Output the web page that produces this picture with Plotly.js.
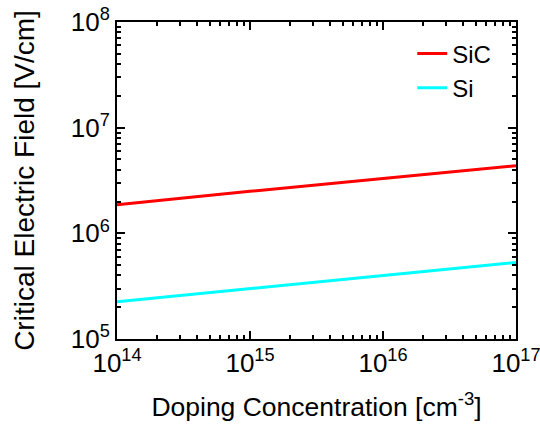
<!DOCTYPE html>
<html>
<head>
<meta charset="utf-8">
<script src="https://cdn.plot.ly/plotly-3.0.1.min.js"></script>
<style>html,body{margin:0;padding:0;background:#fff;}#chart{width:540px;height:434px;}</style>
</head>
<body>
<div id="chart"></div>
<script>
const doping = [1e14, 1e15, 1e16, 1e17];
const sicField = [1.86e6, 2.5e6, 3.3e6, 4.36e6];
const siField = [2.25e5, 3.0e5, 4.0e5, 5.3e5];
const seriesNames = ["SiC", "Si"];
const xTickVals = [1e14, 1e15, 1e16, 1e17];
const xTickExp = ["14", "15", "16", "17"];
const yTickVals = [1e5, 1e6, 1e7, 1e8];
const yTickExp = ["5", "6", "7", "8"];

const supText = e => '10<sup>' + e + '</sup>';

const traces = [
  {x: doping, y: sicField, name: seriesNames[0], mode: 'lines', line: {color: '#ff0000', width: 3}},
  {x: doping, y: siField, name: seriesNames[1], mode: 'lines', line: {color: '#00ffff', width: 3}}
];

const fam = 'Liberation Sans, Arial, sans-serif';
function axisCommon() {
  return {
    type: 'log', showline: true, linewidth: 2, linecolor: '#000', mirror: 'ticks',
    ticks: 'inside', ticklen: 8, tickwidth: 2, tickcolor: '#000',
    tickmode: 'array', showgrid: false, zeroline: false, ticklabeloverflow: 'allow',
    tickfont: {family: fam, size: 26, color: '#000'},
    minor: {ticks: 'inside', ticklen: 4, tickwidth: 2, tickcolor: '#000', showgrid: false, tickmode: 'linear', dtick: 'D1'}
  };
}

const layout = {
  width: 540, height: 434,
  margin: {l: 117, r: 24, t: 22, b: 95},
  paper_bgcolor: '#fff', plot_bgcolor: '#fff',
  font: {family: fam, color: '#000'},
  showlegend: true,
  legend: {x: 0.74, y: 0.97, xanchor: 'left', yanchor: 'top', bgcolor: 'rgba(0,0,0,0)',
           font: {family: fam, size: 24, color: '#000'}},
  xaxis: Object.assign(axisCommon(), {
    range: [14, 17],
    tickvals: xTickVals, ticktext: xTickExp.map(supText),
    title: {text: 'Doping Concentration [cm<sup>-3</sup>]', font: {family: fam, size: 26.5, color: '#000'}, standoff: 20}
  }),
  yaxis: Object.assign(axisCommon(), {
    range: [5, 8],
    tickvals: yTickVals, ticktext: yTickExp.map(supText),
    title: {text: 'Critical Electric Field [V/cm]', font: {family: fam, size: 28, color: '#000'}, standoff: 28}
  })
};

Plotly.newPlot('chart', traces, layout, {displayModeBar: false, staticPlot: true});
</script>
</body>
</html>
